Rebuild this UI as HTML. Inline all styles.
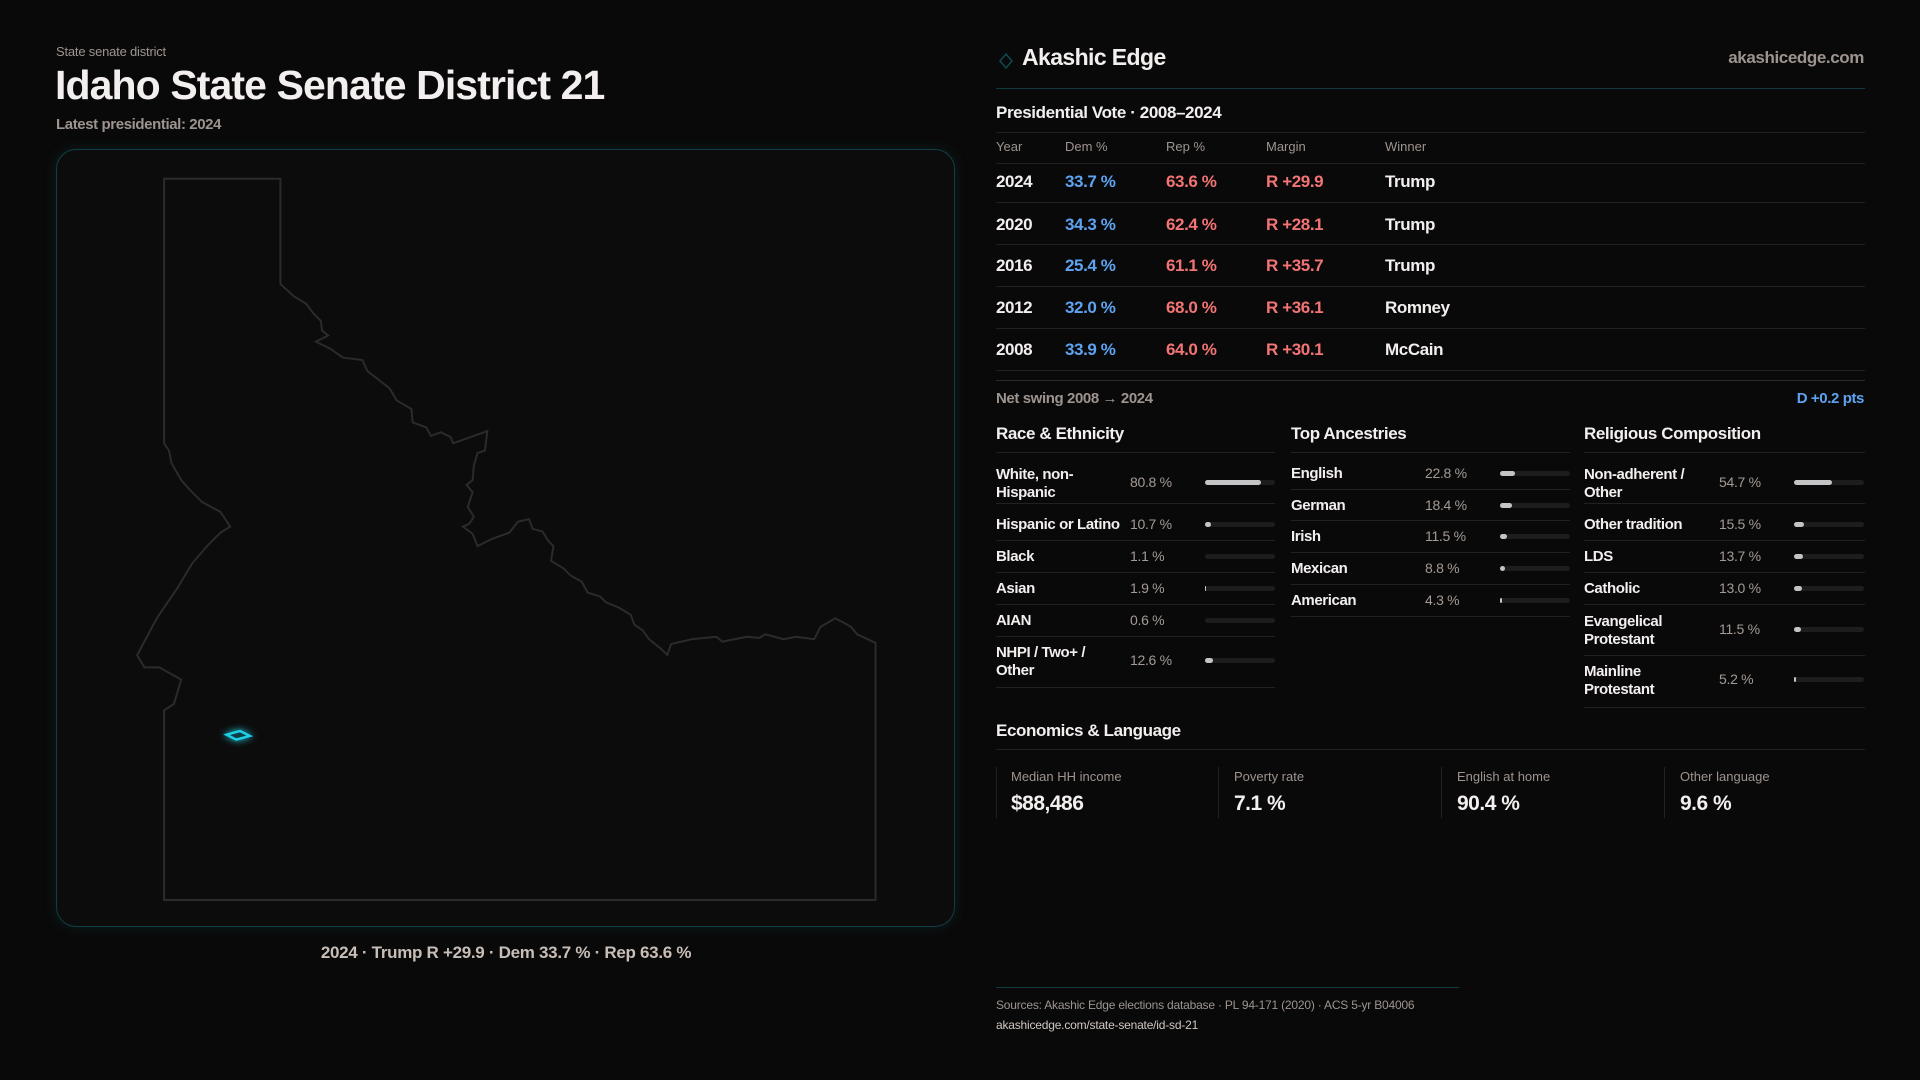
<!DOCTYPE html>
<html><head><meta charset="utf-8"><style>
*{margin:0;padding:0;box-sizing:border-box}
body{width:1920px;height:1080px;background:#0a0909;font-family:"Liberation Sans",sans-serif;color:#f2efee;position:relative;overflow:hidden}
.t{position:absolute;white-space:nowrap;line-height:1}
.g{color:#9d948f}
.b{font-weight:bold}
.bl{color:#5ea3f2}.rd{color:#f27474}
.hl{position:absolute;height:1px;background:#222122}
.tr{position:absolute;height:5px;background:#1e1d1e;border-radius:3px;width:70px}
.fl{position:absolute;left:0;top:0;height:5px;background:#c4c4c6;border-radius:3px}
.sm{font-size:15px;letter-spacing:-0.4px;font-weight:bold}
.vl{font-size:14px;color:#a39a94;letter-spacing:-0.3px}
</style></head><body>
<div class="t g" style="left:56px;top:45px;font-size:13px;letter-spacing:-0.2px">State senate district</div>
<div class="t b" style="left:55px;top:65px;font-size:41px;letter-spacing:-0.9px">Idaho State Senate District 21</div>
<div class="t g b" style="left:56px;top:117px;font-size:15px;letter-spacing:-0.4px">Latest presidential: 2024</div>

<div style="position:absolute;left:56px;top:149px;width:899px;height:778px;border:1px solid #0f3f45;border-radius:20px;background:#0d0c0d;box-shadow:0 0 14px rgba(20,120,130,0.18)"></div>
<svg width="1920" height="1080" style="position:absolute;left:0;top:0">
<g transform="scale(1.2245)">
<path fill="none" stroke="#2c2b2c" stroke-width="1.6" d="M134,146 L229,146 L229,232 L240,242 L250,248 L256,256 L262,262 L263,270 L268,274 L258,279 L270,285 L280,292 L296,294 L300,303 L318,317 L324,327 L336,334 L337,345 L348,349 L352,356 L360,353 L368,357 L370,362 L398,352 L396,368 L390,370 L387,380 L386,392 L381,396 L386,402 L382,414 L387,422 L383,428 L378,430 L386,436 L390,446 L402,440 L416,435 L423,426 L432,424 L435,432 L443,434 L448,442 L452,446 L450,458 L460,464 L466,470 L475,475 L480,484 L490,487 L495,492 L505,496 L515,502 L518,510 L525,515 L530,522 L540,530 L545,535 L548,526 L565,522 L585,520 L590,524 L610,520 L620,521 L625,518 L640,522 L650,520 L665,522 L670,512 L682,505 L688,508 L695,512 L700,518 L715,525 L715,735 L134,735 L134,580 L142,575 L148,555 L130,545 L118,545 L112,535 L120,520 L128,505 L145,480 L157,460 L170,445 L180,435 L188,430 L180,418 L165,410 L155,400 L148,392 L140,378 L138,368 L134,362 Z"/>
<path d="M185,600 L196,597 L204,601 L193,604 Z" fill="#0a3d45" stroke="#1fd0e6" stroke-width="2" style="filter:drop-shadow(0 0 3px #1fd0e6)"/>
</g>
<path d="M1000,61 L1006,54 L1012,61 L1006,68 Z" fill="none" stroke="#0f4a52" stroke-width="1.5"/>
</svg>
<div class="t b" style="left:206px;top:944px;width:600px;text-align:center;font-size:17px;color:#c8beb8;letter-spacing:-0.3px">2024 · Trump R +29.9 · Dem 33.7 % · Rep 63.6 %</div>

<div class="t b" style="left:1022px;top:46px;font-size:23px;letter-spacing:-0.6px">Akashic Edge</div>
<div class="t g b" style="right:56px;top:49px;font-size:17px;letter-spacing:-0.4px">akashicedge.com</div>
<div class="hl" style="left:996px;top:88px;width:869px;background:#0f3a40"></div>
<div class="t b" style="left:996px;top:104px;font-size:17px;letter-spacing:-0.4px">Presidential Vote · 2008–2024</div>
<div class="hl" style="left:996px;top:132px;width:869px"></div>
<div class="t g" style="left:996px;top:140px;font-size:13px">Year</div>
<div class="t g" style="left:1065px;top:140px;font-size:13px">Dem %</div>
<div class="t g" style="left:1166px;top:140px;font-size:13px">Rep %</div>
<div class="t g" style="left:1266px;top:140px;font-size:13px">Margin</div>
<div class="t g" style="left:1385px;top:140px;font-size:13px">Winner</div>
<div class="hl" style="left:996px;top:163px;width:869px"></div>

<div style="position:absolute;left:996px;top:173px;font-size:17px;font-weight:bold;letter-spacing:-0.4px">
<div class="t" style="top:0">2024</div><div class="t bl" style="left:69px;top:0">33.7 %</div><div class="t rd" style="left:170px;top:0">63.6 %</div><div class="t rd" style="left:270px;top:0">R +29.9</div><div class="t" style="left:389px;top:0">Trump</div>
<div class="t" style="top:43px">2020</div><div class="t bl" style="left:69px;top:43px">34.3 %</div><div class="t rd" style="left:170px;top:43px">62.4 %</div><div class="t rd" style="left:270px;top:43px">R +28.1</div><div class="t" style="left:389px;top:43px">Trump</div>
<div class="t" style="top:84px">2016</div><div class="t bl" style="left:69px;top:84px">25.4 %</div><div class="t rd" style="left:170px;top:84px">61.1 %</div><div class="t rd" style="left:270px;top:84px">R +35.7</div><div class="t" style="left:389px;top:84px">Trump</div>
<div class="t" style="top:126px">2012</div><div class="t bl" style="left:69px;top:126px">32.0 %</div><div class="t rd" style="left:170px;top:126px">68.0 %</div><div class="t rd" style="left:270px;top:126px">R +36.1</div><div class="t" style="left:389px;top:126px">Romney</div>
<div class="t" style="top:168px">2008</div><div class="t bl" style="left:69px;top:168px">33.9 %</div><div class="t rd" style="left:170px;top:168px">64.0 %</div><div class="t rd" style="left:270px;top:168px">R +30.1</div><div class="t" style="left:389px;top:168px">McCain</div>
</div>
<div class="hl" style="left:996px;top:202px;width:869px"></div>
<div class="hl" style="left:996px;top:244px;width:869px"></div>
<div class="hl" style="left:996px;top:286px;width:869px"></div>
<div class="hl" style="left:996px;top:328px;width:869px"></div>
<div class="hl" style="left:996px;top:370px;width:869px"></div>
<div class="hl" style="left:996px;top:380px;width:869px;background:#2a292a"></div>
<div class="t g b" style="left:996px;top:391px;font-size:15px;letter-spacing:-0.4px">Net swing 2008 → 2024</div>
<div class="t bl b" style="right:56px;top:391px;font-size:15px;letter-spacing:-0.4px">D +0.2 pts</div>

<!-- Race -->
<div class="t b" style="left:996px;top:425px;font-size:17px;letter-spacing:-0.4px">Race &amp; Ethnicity</div>
<div class="hl" style="left:996px;top:452px;width:279px"></div>
<div class="t sm" style="left:996px;top:466px;line-height:18px">White, non-<br>Hispanic</div><div class="t vl" style="left:1130px;top:475px">80.8 %</div><div class="tr" style="left:1205px;top:480px"><div class="fl" style="width:56px"></div></div>
<div class="hl" style="left:996px;top:503px;width:279px"></div>
<div class="t sm" style="left:996px;top:517px">Hispanic or Latino</div><div class="t vl" style="left:1130px;top:517px">10.7 %</div><div class="tr" style="left:1205px;top:522px"><div class="fl" style="width:6px"></div></div>
<div class="hl" style="left:996px;top:540px;width:279px"></div>
<div class="t sm" style="left:996px;top:549px">Black</div><div class="t vl" style="left:1130px;top:549px">1.1 %</div><div class="tr" style="left:1205px;top:554px"></div>
<div class="hl" style="left:996px;top:572px;width:279px"></div>
<div class="t sm" style="left:996px;top:581px">Asian</div><div class="t vl" style="left:1130px;top:581px">1.9 %</div><div class="tr" style="left:1205px;top:586px"><div class="fl" style="width:1px"></div></div>
<div class="hl" style="left:996px;top:604px;width:279px"></div>
<div class="t sm" style="left:996px;top:613px">AIAN</div><div class="t vl" style="left:1130px;top:613px">0.6 %</div><div class="tr" style="left:1205px;top:618px"></div>
<div class="hl" style="left:996px;top:636px;width:279px"></div>
<div class="t sm" style="left:996px;top:644px;line-height:18px">NHPI / Two+ /<br>Other</div><div class="t vl" style="left:1130px;top:653px">12.6 %</div><div class="tr" style="left:1205px;top:658px"><div class="fl" style="width:8px"></div></div>
<div class="hl" style="left:996px;top:687px;width:279px"></div>

<!-- Ancestry -->
<div class="t b" style="left:1291px;top:425px;font-size:17px;letter-spacing:-0.4px">Top Ancestries</div>
<div class="hl" style="left:1291px;top:452px;width:279px"></div>
<div class="t sm" style="left:1291px;top:466px">English</div><div class="t vl" style="left:1425px;top:466px">22.8 %</div><div class="tr" style="left:1500px;top:471px"><div class="fl" style="width:15px"></div></div>
<div class="hl" style="left:1291px;top:489px;width:279px"></div>
<div class="t sm" style="left:1291px;top:498px">German</div><div class="t vl" style="left:1425px;top:498px">18.4 %</div><div class="tr" style="left:1500px;top:503px"><div class="fl" style="width:12px"></div></div>
<div class="hl" style="left:1291px;top:520px;width:279px"></div>
<div class="t sm" style="left:1291px;top:529px">Irish</div><div class="t vl" style="left:1425px;top:529px">11.5 %</div><div class="tr" style="left:1500px;top:534px"><div class="fl" style="width:7px"></div></div>
<div class="hl" style="left:1291px;top:552px;width:279px"></div>
<div class="t sm" style="left:1291px;top:561px">Mexican</div><div class="t vl" style="left:1425px;top:561px">8.8 %</div><div class="tr" style="left:1500px;top:566px"><div class="fl" style="width:5px"></div></div>
<div class="hl" style="left:1291px;top:584px;width:279px"></div>
<div class="t sm" style="left:1291px;top:593px">American</div><div class="t vl" style="left:1425px;top:593px">4.3 %</div><div class="tr" style="left:1500px;top:598px"><div class="fl" style="width:2px"></div></div>
<div class="hl" style="left:1291px;top:616px;width:279px"></div>

<!-- Religion -->
<div class="t b" style="left:1584px;top:425px;font-size:17px;letter-spacing:-0.4px">Religious Composition</div>
<div class="hl" style="left:1584px;top:452px;width:281px"></div>
<div class="t sm" style="left:1584px;top:466px;line-height:18px">Non-adherent /<br>Other</div><div class="t vl" style="left:1719px;top:475px">54.7 %</div><div class="tr" style="left:1794px;top:480px"><div class="fl" style="width:38px"></div></div>
<div class="hl" style="left:1584px;top:503px;width:281px"></div>
<div class="t sm" style="left:1584px;top:517px">Other tradition</div><div class="t vl" style="left:1719px;top:517px">15.5 %</div><div class="tr" style="left:1794px;top:522px"><div class="fl" style="width:10px"></div></div>
<div class="hl" style="left:1584px;top:540px;width:281px"></div>
<div class="t sm" style="left:1584px;top:549px">LDS</div><div class="t vl" style="left:1719px;top:549px">13.7 %</div><div class="tr" style="left:1794px;top:554px"><div class="fl" style="width:9px"></div></div>
<div class="hl" style="left:1584px;top:572px;width:281px"></div>
<div class="t sm" style="left:1584px;top:581px">Catholic</div><div class="t vl" style="left:1719px;top:581px">13.0 %</div><div class="tr" style="left:1794px;top:586px"><div class="fl" style="width:8px"></div></div>
<div class="hl" style="left:1584px;top:604px;width:281px"></div>
<div class="t sm" style="left:1584px;top:613px;line-height:18px">Evangelical<br>Protestant</div><div class="t vl" style="left:1719px;top:622px">11.5 %</div><div class="tr" style="left:1794px;top:627px"><div class="fl" style="width:7px"></div></div>
<div class="hl" style="left:1584px;top:655px;width:281px"></div>
<div class="t sm" style="left:1584px;top:663px;line-height:18px">Mainline<br>Protestant</div><div class="t vl" style="left:1719px;top:672px">5.2 %</div><div class="tr" style="left:1794px;top:677px"><div class="fl" style="width:2px"></div></div>
<div class="hl" style="left:1584px;top:707px;width:281px"></div>

<!-- Economics -->
<div class="t b" style="left:996px;top:722px;font-size:17px;letter-spacing:-0.4px">Economics &amp; Language</div>
<div class="hl" style="left:996px;top:749px;width:869px"></div>
<div style="position:absolute;left:996px;top:767px;width:1px;height:51px;background:#222122"></div>
<div style="position:absolute;left:1218px;top:767px;width:1px;height:51px;background:#222122"></div>
<div style="position:absolute;left:1441px;top:767px;width:1px;height:51px;background:#222122"></div>
<div style="position:absolute;left:1664px;top:767px;width:1px;height:51px;background:#222122"></div>
<div class="t g" style="left:1011px;top:770px;font-size:13px">Median HH income</div><div class="t b" style="left:1011px;top:793px;font-size:21px;letter-spacing:-0.5px">$88,486</div>
<div class="t g" style="left:1234px;top:770px;font-size:13px">Poverty rate</div><div class="t b" style="left:1234px;top:793px;font-size:21px;letter-spacing:-0.5px">7.1 %</div>
<div class="t g" style="left:1457px;top:770px;font-size:13px">English at home</div><div class="t b" style="left:1457px;top:793px;font-size:21px;letter-spacing:-0.5px">90.4 %</div>
<div class="t g" style="left:1680px;top:770px;font-size:13px">Other language</div><div class="t b" style="left:1680px;top:793px;font-size:21px;letter-spacing:-0.5px">9.6 %</div>

<div class="hl" style="left:996px;top:987px;width:463px;background:#0f3a40"></div>
<div class="t g" style="left:996px;top:999px;font-size:12px;letter-spacing:-0.2px">Sources: Akashic Edge elections database · PL 94-171 (2020) · ACS 5-yr B04006</div>
<div class="t" style="left:996px;top:1019px;font-size:12px;color:#cfc7c2;letter-spacing:-0.2px">akashicedge.com/state-senate/id-sd-21</div>
</body></html>
